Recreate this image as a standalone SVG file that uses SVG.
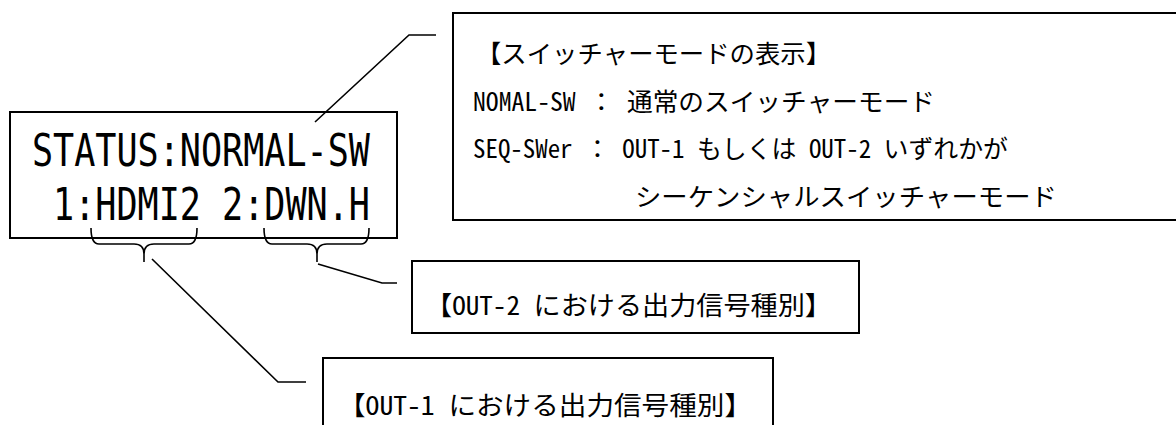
<svg xmlns="http://www.w3.org/2000/svg" width="1176" height="425" viewBox="0 0 1176 425">
<style>
.box{fill:#fff;stroke:#000;stroke-width:2}
.ln{fill:none;stroke:#000;stroke-width:1.6}
.t{font-family:"Noto Sans Mono CJK JP","Noto Sans CJK JP",monospace;fill:#000}
.lcd{font-family:"DejaVu Sans Mono","Liberation Mono",monospace;font-size:44px;fill:#000}
</style>
<rect width="1176" height="425" fill="#fff"/>
<g id="lcd">
<rect class="box" x="10" y="112" width="387" height="126"/>
<text class="lcd" transform="translate(32,0) scale(0.7975,1)" xml:space="preserve"><tspan x="0" y="166">STATUS:NORMAL-SW</tspan><tspan x="0" y="220"> 1:HDMI2 2:DWN.H</tspan></text>
</g>
<g id="mode-box">
<rect class="box" x="453" y="13" width="730" height="207"/>
<text class="t" x="476" y="63" font-size="25" textLength="355" lengthAdjust="spacingAndGlyphs">【スイッチャーモードの表示】</text>
<text class="t" x="473" y="111" font-size="25" textLength="462" lengthAdjust="spacingAndGlyphs" xml:space="preserve">NOMAL-SW ： 通常のスイッチャーモード</text>
<text class="t" x="473" y="158" font-size="25" textLength="535" lengthAdjust="spacingAndGlyphs" xml:space="preserve">SEQ-SWer ： OUT-1 もしくは OUT-2 いずれかが</text>
<text class="t" x="635" y="206" font-size="25" textLength="422" lengthAdjust="spacingAndGlyphs">シーケンシャルスイッチャーモード</text>
</g>
<g id="out2-box">
<rect class="box" x="412" y="261" width="447" height="72"/>
<text class="t" x="425" y="315" font-size="26" textLength="407" lengthAdjust="spacingAndGlyphs" xml:space="preserve">【OUT-2 における出力信号種別】</text>
</g>
<g id="out1-box">
<rect class="box" x="323" y="358" width="450" height="80"/>
<text class="t" x="338" y="415" font-size="26" textLength="414" lengthAdjust="spacingAndGlyphs" xml:space="preserve">【OUT-1 における出力信号種別】</text>
</g>
<g id="connectors">
<path class="ln" d="M91,228 Q91,244 99,244 L134,244 Q144,244 144,254 L144,262 M144,254 Q144,244 154,244 L189,244 Q197,244 197,228"/>
<path class="ln" d="M264,228 Q264,244 272,244 L307,244 Q317,244 317,254 L317,262 M317,254 Q317,244 327,244 L361,244 Q369,244 369,228"/>
<polyline class="ln" points="315,122 409,35 436,35"/>
<polyline class="ln" points="318,264 382,283 397,283"/>
<polyline class="ln" points="152,259 278,382 306,382"/>
</g>
</svg>
